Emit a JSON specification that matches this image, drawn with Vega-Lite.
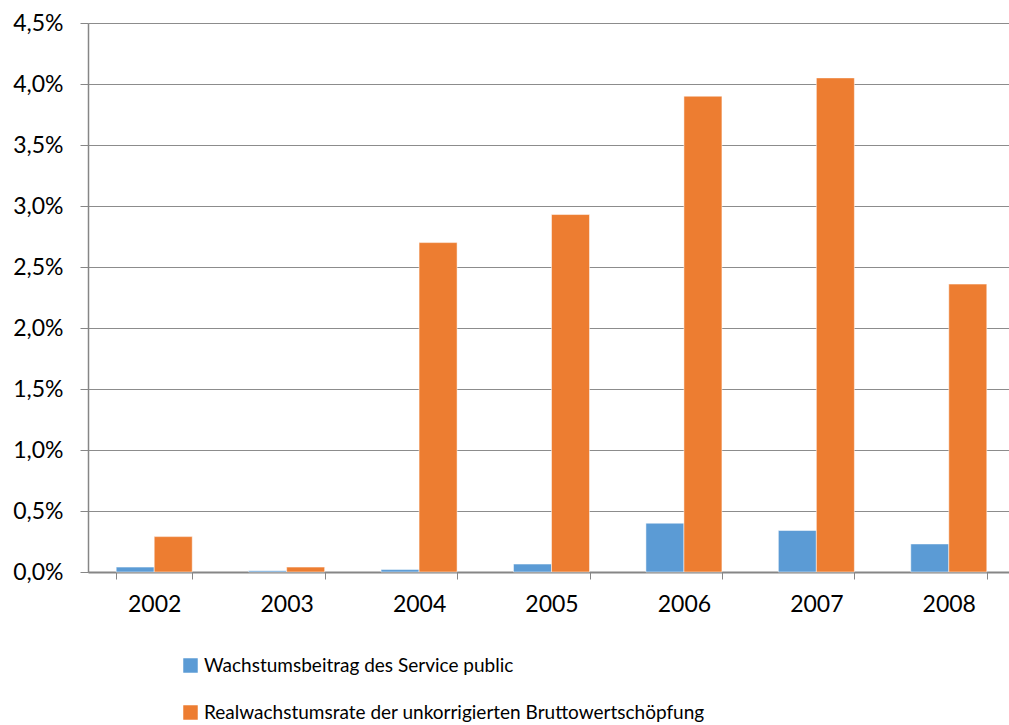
{
  "$schema": "https://vega.github.io/schema/vega-lite/v6.json",
  "width": 927,
  "height": 549,
  "autosize": {"type": "none"},
  "padding": {"left": 88, "top": 23, "right": 0, "bottom": 153},
  "background": "white",
  "data": {
    "values": [
      {"jahr": "2002", "serie": "Wachstumsbeitrag des Service public", "wert": 0.0004},
      {"jahr": "2002", "serie": "Realwachstumsrate der unkorrigierten Bruttowertschöpfung", "wert": 0.0029},
      {"jahr": "2003", "serie": "Wachstumsbeitrag des Service public", "wert": 0.0001},
      {"jahr": "2003", "serie": "Realwachstumsrate der unkorrigierten Bruttowertschöpfung", "wert": 0.0004},
      {"jahr": "2004", "serie": "Wachstumsbeitrag des Service public", "wert": 0.0002},
      {"jahr": "2004", "serie": "Realwachstumsrate der unkorrigierten Bruttowertschöpfung", "wert": 0.0270},
      {"jahr": "2005", "serie": "Wachstumsbeitrag des Service public", "wert": 0.00065},
      {"jahr": "2005", "serie": "Realwachstumsrate der unkorrigierten Bruttowertschöpfung", "wert": 0.0293},
      {"jahr": "2006", "serie": "Wachstumsbeitrag des Service public", "wert": 0.0040},
      {"jahr": "2006", "serie": "Realwachstumsrate der unkorrigierten Bruttowertschöpfung", "wert": 0.0390},
      {"jahr": "2007", "serie": "Wachstumsbeitrag des Service public", "wert": 0.0034},
      {"jahr": "2007", "serie": "Realwachstumsrate der unkorrigierten Bruttowertschöpfung", "wert": 0.0405},
      {"jahr": "2008", "serie": "Wachstumsbeitrag des Service public", "wert": 0.0023},
      {"jahr": "2008", "serie": "Realwachstumsrate der unkorrigierten Bruttowertschöpfung", "wert": 0.0236}
    ]
  },
  "mark": {"type": "bar", "stroke": "white", "strokeWidth": 0.5},
  "encoding": {
    "x": {
      "field": "jahr",
      "type": "nominal",
      "scale": {"paddingInner": 0.426, "paddingOuter": 0.213},
      "axis": {
        "title": null,
        "labelAngle": 0,
        "tickBand": "extent",
        "labelFontSize": 23,
        "labelFont": "Lato",
        "labelColor": "#000000",
        "labelPadding": 14,
        "domainColor": "#868686",
        "domainWidth": 2,
        "tickColor": "#868686",
        "tickSize": 7,
        "tickWidth": 1
      }
    },
    "xOffset": {
      "field": "serie",
      "type": "nominal",
      "sort": ["Wachstumsbeitrag des Service public", "Realwachstumsrate der unkorrigierten Bruttowertschöpfung"],
      "scale": {"paddingInner": 0, "paddingOuter": 0}
    },
    "y": {
      "field": "wert",
      "type": "quantitative",
      "scale": {"domain": [0, 0.045], "nice": false},
      "axis": {
        "title": null,
        "values": [0, 0.005, 0.01, 0.015, 0.02, 0.025, 0.03, 0.035, 0.04, 0.045],
        "labelExpr": "replace(format(datum.value, '.1%'), '.', ',')",
        "labelFontSize": 23,
        "labelFont": "Lato",
        "labelColor": "#000000",
        "labelPadding": 17,
        "domainColor": "#868686",
        "domainWidth": 1.5,
        "tickColor": "#868686",
        "tickSize": 8,
        "gridColor": "#8c8c8c",
        "gridWidth": 1
      }
    },
    "color": {
      "field": "serie",
      "type": "nominal",
      "sort": ["Wachstumsbeitrag des Service public", "Realwachstumsrate der unkorrigierten Bruttowertschöpfung"],
      "scale": {"range": ["#5B9BD5", "#ED7D31"]},
      "legend": {
        "title": null,
        "orient": "none",
        "direction": "vertical",
        "legendX": 93,
        "legendY": 633,
        "symbolType": "square",
        "symbolSize": 210,
        "symbolStrokeWidth": 0,
        "labelFontSize": 19,
        "labelFont": "Lato",
        "labelColor": "#000000",
        "labelOffset": 4,
        "rowPadding": 27,
        "labelLimit": 900
      }
    }
  },
  "config": {"view": {"stroke": null}}
}
